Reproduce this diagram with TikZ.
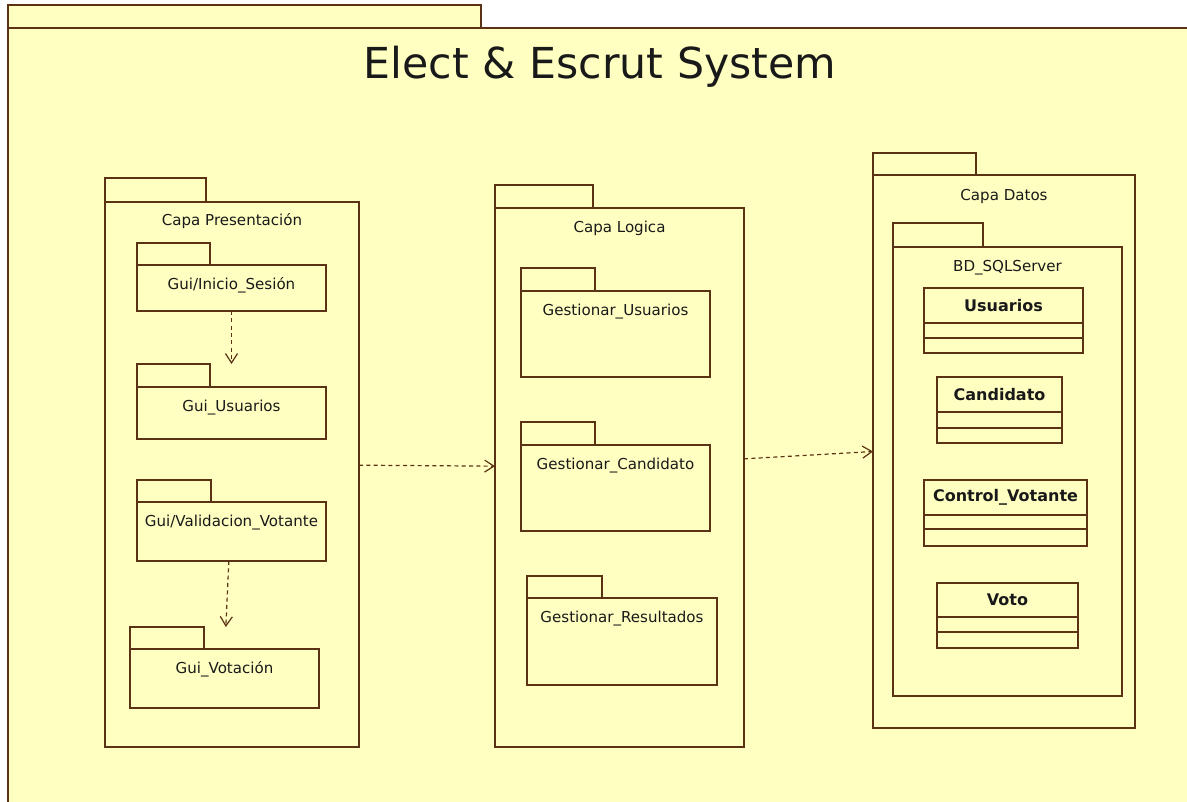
\documentclass[tikz,border=0pt]{standalone}
\usepackage{fontspec}
\setmainfont{DejaVu Sans}
\usetikzlibrary{arrows.meta,positioning}
\definecolor{umlfill}{RGB}{255,255,194}
\definecolor{umlline}{RGB}{92,50,20}
\definecolor{umltext}{RGB}{25,25,25}
\tikzset{
  pkgbody/.style={draw=umlline, fill=umlfill, line width=1.3pt, inner sep=0pt, outer sep=0pt, anchor=north west},
  pkgtab/.style={draw=umlline, fill=umlfill, line width=1.3pt, inner sep=0pt, outer sep=0pt, anchor=south west},
  pkgname/.style={font=\fontsize{11.3}{13}\selectfont, text=umltext, inner sep=0pt, anchor=base},
  clshead/.style={draw=umlline, fill=umlfill, line width=1.3pt, inner sep=0pt, outer sep=0pt, anchor=north west,
                  font=\fontsize{12}{14}\selectfont\bfseries, text=umltext},
  clscomp/.style={draw=umlline, fill=umlfill, line width=1.3pt, inner sep=0pt, outer sep=0pt},
  sz/.style 2 args={minimum width=#1*0.75pt, minimum height=#2*0.75pt},
  dep/.style={draw=umlline, line width=0.9pt, dash pattern=on 3pt off 2.5pt,
              -{Straight Barb[length=7pt,width=9pt]}},
}

\begin{document}
\begin{tikzpicture}[x=0.75pt, y=-0.75pt]
\useasboundingbox (0,0) rectangle (1187,801);
\clip (0,0) rectangle (1187,801);
\fill[white] (0,0) rectangle (1187,801);

% Outer package: the whole system
\node[pkgbody, sz={1250}{850}] (system) at (8,28) {};
\node[pkgtab, sz={473}{23}] (system tab) at (system.north west) {};
\node[font=\fontsize{32}{38}\selectfont, text=umltext, anchor=base] (system name) at (600,78) {Elect \& Escrut System};

% Left: Capa Presentacion
\node[pkgbody, sz={254}{545}] (pres) at (105,202) {};
\node[pkgtab, sz={101}{24}] (pres tab) at (pres.north west) {};
\node[pkgname] (pres name) at ([yshift=-17.5pt]pres.north) {Capa Presentación};

\node[pkgbody, sz={189}{46}] (inicio) at (137,265) {};
\node[pkgtab, sz={73}{22}] (inicio tab) at (inicio.north west) {};
\node[pkgname] (inicio name) at ([yshift=-18.5pt]inicio.north) {Gui/Inicio\_Sesión};

\node[pkgbody, sz={189}{52}] (usuarios) at (137,387) {};
\node[pkgtab, sz={73}{23}] (usuarios tab) at (usuarios.north west) {};
\node[pkgname] (usuarios name) at ([yshift=-18.5pt]usuarios.north) {Gui\_Usuarios};

\node[pkgbody, sz={189}{59}] (valid) at (137,502) {};
\node[pkgtab, sz={74}{22}] (valid tab) at (valid.north west) {};
\node[pkgname] (valid name) at ([yshift=-18.5pt]valid.north) {Gui/Validacion\_Votante};

\node[pkgbody, sz={189}{59}] (votacion) at (130,649) {};
\node[pkgtab, sz={74}{22}] (votacion tab) at (votacion.north west) {};
\node[pkgname] (votacion name) at ([yshift=-18.5pt]votacion.north) {Gui\_Votación};

% Middle: Capa Logica
\node[pkgbody, sz={249}{539}] (logica) at (495,208) {};
\node[pkgtab, sz={98}{23}] (logica tab) at (logica.north west) {};
\node[pkgname] (logica name) at ([yshift=-18.5pt]logica.north) {Capa Logica};

\node[pkgbody, sz={189}{86}] (gusuarios) at (521,291) {};
\node[pkgtab, sz={74}{23}] (gusuarios tab) at (gusuarios.north west) {};
\node[pkgname] (gusuarios name) at ([yshift=-18.5pt]gusuarios.north) {Gestionar\_Usuarios};

\node[pkgbody, sz={189}{86}] (gcandidato) at (521,445) {};
\node[pkgtab, sz={74}{23}] (gcandidato tab) at (gcandidato.north west) {};
\node[pkgname] (gcandidato name) at ([yshift=-18.5pt]gcandidato.north) {Gestionar\_Candidato};

\node[pkgbody, sz={190}{87}] (gresultados) at (527,598) {};
\node[pkgtab, sz={75}{22}] (gresultados tab) at (gresultados.north west) {};
\node[pkgname] (gresultados name) at ([yshift=-18.5pt]gresultados.north) {Gestionar\_Resultados};

% Right: Capa Datos
\node[pkgbody, sz={262}{553}] (datos) at (873,175) {};
\node[pkgtab, sz={103}{22}] (datos tab) at (datos.north west) {};
\node[pkgname] (datos name) at ([yshift=-19pt]datos.north) {Capa Datos};

\node[pkgbody, sz={229}{449}] (sqlserver) at (893,247) {};
\node[pkgtab, sz={90}{24}] (sqlserver tab) at (sqlserver.north west) {};
\node[pkgname] (sqlserver name) at ([yshift=-18.5pt]sqlserver.north) {BD\_SQLServer};

\node[clshead, sz={159}{35}] (cusuarios) at (924,288) {Usuarios};
\node[clscomp, sz={159}{15}, below=0pt of cusuarios] (cusuarios attr) {};
\node[clscomp, sz={159}{15}, below=0pt of cusuarios attr] (cusuarios ops) {};

\node[clshead, sz={125}{35}] (ccandidato) at (937,377) {Candidato};
\node[clscomp, sz={125}{16}, below=0pt of ccandidato] (ccandidato attr) {};
\node[clscomp, sz={125}{15}, below=0pt of ccandidato attr] (ccandidato ops) {};

\node[clshead, sz={163}{35}] (ccontrol) at (924,480) {Control\_Votante};
\node[clscomp, sz={163}{14}, below=0pt of ccontrol] (ccontrol attr) {};
\node[clscomp, sz={163}{17}, below=0pt of ccontrol attr] (ccontrol ops) {};

\node[clshead, sz={141}{34}] (cvoto) at (937,583) {Voto};
\node[clscomp, sz={141}{15}, below=0pt of cvoto] (cvoto attr) {};
\node[clscomp, sz={141}{16}, below=0pt of cvoto attr] (cvoto ops) {};

% Dependencies
\draw[dep] (inicio.south) -- (inicio.south |- usuarios tab.north);
\draw[dep] ([xshift=-2pt]valid.south) -- ([xshift=1pt]votacion.north |- votacion tab.north);
\draw[dep] ([yshift=7pt]pres.east) -- ([yshift=8.5pt]logica.west);
\draw[dep] ([yshift=14pt]logica.east) -- (datos.west);
\end{tikzpicture}
\end{document}
